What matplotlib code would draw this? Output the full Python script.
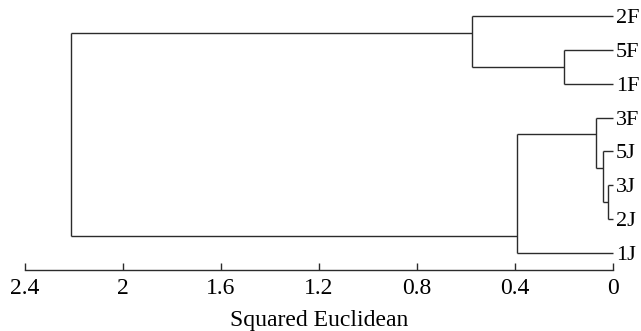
import matplotlib
matplotlib.use('Agg')
from matplotlib import pyplot as plt

# Leaves, top to bottom
leaves = ['2F', '5F', '1F', '3F', '5J', '3J', '2J', '1J']

# Merges: (top child, bottom child, distance); new nodes numbered from 8
merge_top = [5, 4, 3, 1, 10, 0, 13]
merge_bottom = [6, 8, 9, 2, 7, 11, 12]
merge_dist = [0.018, 0.038, 0.068, 0.20, 0.39, 0.573, 2.212]

x_ticks = [2.4, 2.0, 1.6, 1.2, 0.8, 0.4, 0.0]
x_tick_labels = ['2.4', '2', '1.6', '1.2', '0.8', '0.4', '0']

plt.rcParams['font.family'] = ['Liberation Serif', 'DejaVu Serif']
line_color = '#2b2b2b'

fig = plt.figure(figsize=(6.41, 3.31), dpi=100)
ax = fig.add_axes([24.7 / 641, 61 / 331, 588 / 641, 270 / 331])

# node info: y position, height, leaf index range
node_y = {i: float(i) for i in range(len(leaves))}
node_h = {i: 0.0 for i in range(len(leaves))}
node_lo = {i: i for i in range(len(leaves))}
node_hi = {i: i for i in range(len(leaves))}

for k, (a, b, d) in enumerate(zip(merge_top, merge_bottom, merge_dist)):
    new = len(leaves) + k
    # joint placed between the two neighbouring leaves of the children
    node_y[new] = (node_hi[a] + node_lo[b]) / 2
    node_h[new] = d
    node_lo[new] = min(node_lo[a], node_lo[b])
    node_hi[new] = max(node_hi[a], node_hi[b])
    for c in (a, b):
        ax.plot([node_h[c], d], [node_y[c], node_y[c]], color=line_color,
                lw=1.0, solid_capstyle='butt', clip_on=False)
    ax.plot([d, d], [node_y[a], node_y[b]], color=line_color, lw=1.0,
            solid_capstyle='butt', clip_on=False)

ax.set_xlim(2.4, 0)
ax.set_ylim(7.5, -0.47)

for s in ['top', 'left', 'right']:
    ax.spines[s].set_visible(False)
ax.spines['bottom'].set_color(line_color)
ax.spines['bottom'].set_linewidth(1.0)

ax.set_xticks(x_ticks)
ax.set_xticklabels(x_tick_labels, fontsize=17)
ax.tick_params(axis='x', direction='in', length=5, width=1.0,
               color=line_color, pad=6)

ax.yaxis.tick_right()
ax.set_yticks(range(len(leaves)))
ax.set_yticklabels(leaves, fontsize=16)
ax.tick_params(axis='y', length=0, pad=2.5)

ax.set_xlabel('Squared Euclidean', fontsize=17, labelpad=8)

fig.savefig('out.png', dpi=100)
